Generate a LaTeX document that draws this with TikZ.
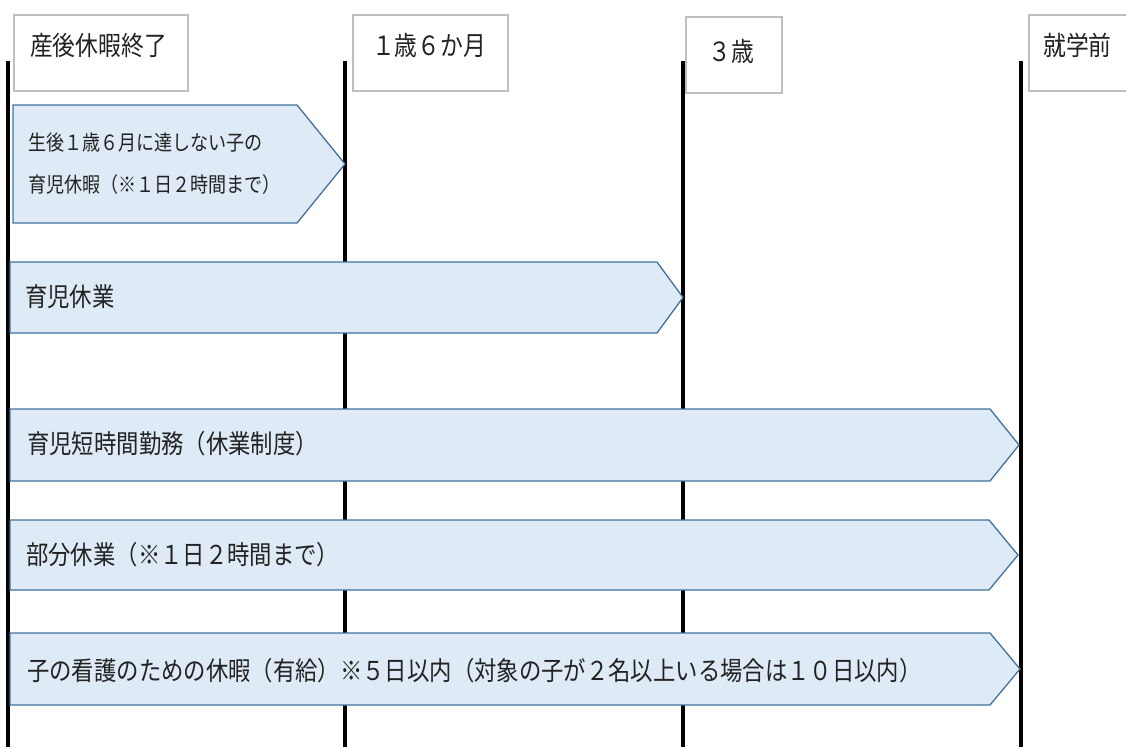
\documentclass[tikz,border=0pt]{standalone}
\usepackage{fontspec}
\setmainfont[FakeStretch=0.86]{Noto Sans CJK JP}
\definecolor{bandfill}{HTML}{DEEBF7}
\definecolor{banddraw}{HTML}{41719C}
\definecolor{boxdraw}{HTML}{BFBFBF}
\definecolor{txt}{HTML}{222222}
\begin{document}
\begin{tikzpicture}[x=1pt,y=-1pt,
  tick/.style={line width=4.5pt,black},
  lblbox/.style={draw=boxdraw,line width=1.3pt,fill=white},
  band/.style={fill=bandfill,draw=banddraw,line width=1.3pt,line join=miter},
  lbltext/.style={anchor=west,inner sep=0pt,text=txt,font=\fontsize{26.5}{30}\selectfont},
  bandtext/.style={anchor=west,inner sep=0pt,text=txt,font=\fontsize{26}{30}\selectfont},
  smalltext/.style={anchor=west,inner sep=0pt,text=txt,align=left,font=\fontsize{21}{42}\selectfont}]
\useasboundingbox (0,0) rectangle (1126,747);
% vertical time lines
\foreach \n/\x in {a/8,b/345,c/683,d/1021}{
  \coordinate (\n top) at (\x,61);
  \coordinate (\n bot) at (\x,747);
  \draw[tick] (\n top) -- (\n bot);
}
% top label boxes
\draw[lblbox] (14,15) rectangle (188,91);
\node[lbltext] (l1) at (30,45) {産後休暇終了};
\draw[lblbox] (353,15) rectangle (508,91);
\node[lbltext] (l2) at (372,45) {１歳６か月};
\draw[lblbox] (686,17) rectangle (782,93);
\node[lbltext] (l3) at (708,51) {３歳};
\draw[lblbox] (1029,15) rectangle (1130,91);
\node[lbltext] (l4) at (1043,45) {就学前};
% bands
\draw[band] (13,105) -- (297,105) -- (345,164) -- (297,223) -- (13,223) -- cycle;
\node[smalltext] (t1) at (28,164) {生後１歳６月に達しない子の\\育児休暇（※１日２時間まで）};
\draw[band] (10,262) -- (657,262) -- (683,297.5) -- (657,333) -- (10,333) -- cycle;
\node[bandtext] (t2) at (25,297) {育児休業};
\draw[band] (10,409) -- (990,409) -- (1019,445) -- (990,481) -- (10,481) -- cycle;
\node[bandtext] (t3) at (27,444) {育児短時間勤務（休業制度）};
\draw[band] (10,520) -- (989,520) -- (1018,555) -- (989,590) -- (10,590) -- cycle;
\node[bandtext] (t4) at (26,555) {部分休業（※１日２時間まで）};
\draw[band] (10,633) -- (990,633) -- (1020,669) -- (990,705) -- (10,705) -- cycle;
\node[bandtext] (t5) at (27,671) {子の看護のための休暇（有給）※５日以内（対象の子が２名以上いる場合は１０日以内）};
\end{tikzpicture}
\end{document}
